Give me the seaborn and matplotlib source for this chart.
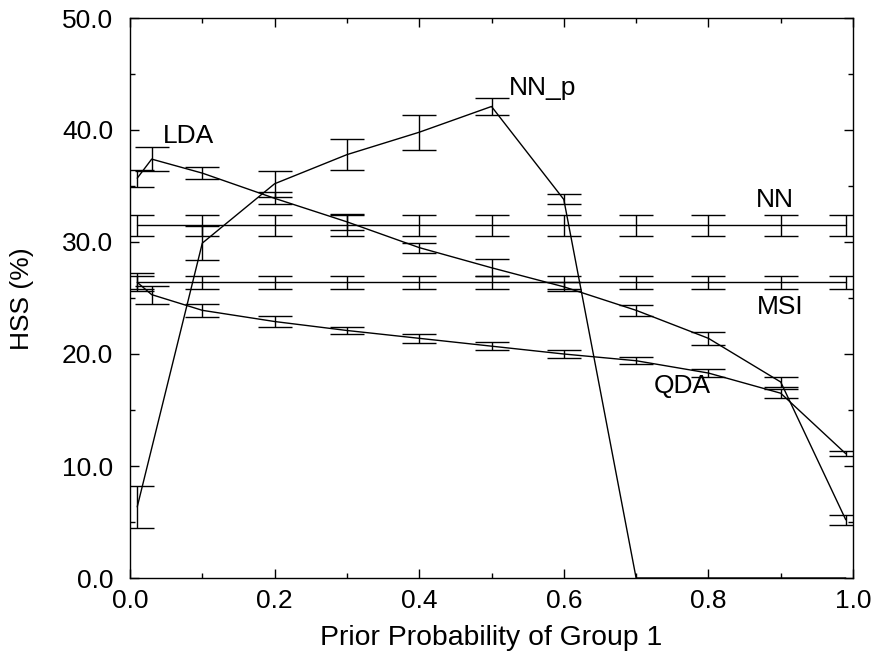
import numpy as np
import pandas as pd
import matplotlib
matplotlib.use("Agg")
import matplotlib.pyplot as plt
import seaborn as sns
from matplotlib.ticker import MultipleLocator, FormatStrFormatter

# ---- data ----
lda_x = [0.01, 0.03, 0.1, 0.2, 0.3, 0.4, 0.5, 0.6, 0.7, 0.8, 0.9, 0.99]
lda_y = [35.7, 37.4, 36.15, 33.9, 31.8, 29.5, 27.7, 26.0, 23.9, 21.4, 17.5, 5.2]
lda_err = [0.75, 1.05, 0.55, 0.55, 0.7, 0.45, 0.75, 0.4, 0.5, 0.6, 0.45, 0.45]

qda_x = [0.01, 0.03, 0.1, 0.2, 0.3, 0.4, 0.5, 0.6, 0.7, 0.8, 0.9, 0.99]
qda_y = [26.4, 25.3, 23.9, 22.9, 22.1, 21.4, 20.7, 20.0, 19.4, 18.3, 16.5, 11.1]
qda_err = [0.8, 0.8, 0.6, 0.5, 0.35, 0.4, 0.35, 0.33, 0.3, 0.35, 0.4, 0.25]

nnp_x = [0.01, 0.1, 0.2, 0.3, 0.4, 0.5, 0.6, 0.7, 0.8, 0.9, 0.99]
nnp_y = [6.35, 29.9, 35.2, 37.8, 39.8, 42.1, 33.8, 0.0, 0.0, 0.0, 0.0]
nnp_err = [1.85, 1.5, 1.15, 1.4, 1.55, 0.8, 0.45, 0.0, 0.0, 0.0, 0.0]

nn_x = [0.01, 0.1, 0.2, 0.3, 0.4, 0.5, 0.6, 0.7, 0.8, 0.9, 0.99]
nn_y = [31.5] * 11
nn_err = [0.95] * 11

msi_x = [0.01, 0.1, 0.2, 0.3, 0.4, 0.5, 0.6, 0.7, 0.8, 0.9, 0.99]
msi_y = [26.4] * 11
msi_err = [0.6] * 11

labels = ["LDA", "NN_p", "NN", "MSI", "QDA"]
label_pos = [(0.081, 38.8), (0.571, 43.1), (0.892, 33.15), (0.899, 23.6), (0.764, 16.5)]

# ---- plot ----
sns.set_theme(style="ticks")
plt.rcParams["font.family"] = ["Liberation Sans", "DejaVu Sans"]
plt.rcParams["text.color"] = "black"
plt.rcParams["axes.labelcolor"] = "black"
plt.rcParams["xtick.color"] = "black"
plt.rcParams["ytick.color"] = "black"

FS = 19

fig = plt.figure(figsize=(8.77, 6.58), dpi=100)
ax = fig.add_axes([130 / 877, 1 - 578 / 658, (853 - 130) / 877, 560 / 658])

series = [
    (lda_x, lda_y, lda_err),
    (qda_x, qda_y, qda_err),
    (nnp_x, nnp_y, nnp_err),
    (nn_x, nn_y, nn_err),
    (msi_x, msi_y, msi_err),
]
for xs, ys, es in series:
    df = pd.DataFrame({"x": xs, "y": ys})
    sns.lineplot(data=df, x="x", y="y", ax=ax, color="black", linewidth=1.0,
                 sort=False, estimator=None)
    mask = np.array(es) > 0
    ax.errorbar(np.array(xs)[mask], np.array(ys)[mask], yerr=np.array(es)[mask],
                fmt="none", ecolor="black", elinewidth=1.0, capsize=12,
                capthick=1.0)

for t, (px, py) in zip(labels, label_pos):
    ax.text(px, py, t, fontsize=FS, ha="center", va="baseline", color="black")

ax.set_xlim(0, 1.0)
ax.set_ylim(0, 50)
ax.xaxis.set_major_locator(MultipleLocator(0.2))
ax.xaxis.set_minor_locator(MultipleLocator(0.1))
ax.yaxis.set_major_locator(MultipleLocator(10))
ax.yaxis.set_minor_locator(MultipleLocator(5))
ax.xaxis.set_major_formatter(FormatStrFormatter("%.1f"))
ax.yaxis.set_major_formatter(FormatStrFormatter("%.1f"))
ax.tick_params(which="both", direction="in", top=True, right=True,
               labelsize=FS, color="black", labelcolor="black", width=1.0)
ax.tick_params(which="major", length=6.5)
ax.tick_params(which="minor", length=3.6)
ax.tick_params(axis="x", which="major", pad=8)
ax.tick_params(axis="y", which="major", pad=12)
for s in ax.spines.values():
    s.set_visible(True)
    s.set_color("black")
    s.set_linewidth(1.0)

ax.set_xlabel("Prior Probability of Group 1", fontsize=20.4)
ax.set_ylabel("HSS (%)", fontsize=FS)
ax.xaxis.set_label_coords(0.5, -0.084)
ax.yaxis.set_label_coords(-0.133, 0.498)
ax.grid(False)

fig.savefig("out.png", dpi=100)
